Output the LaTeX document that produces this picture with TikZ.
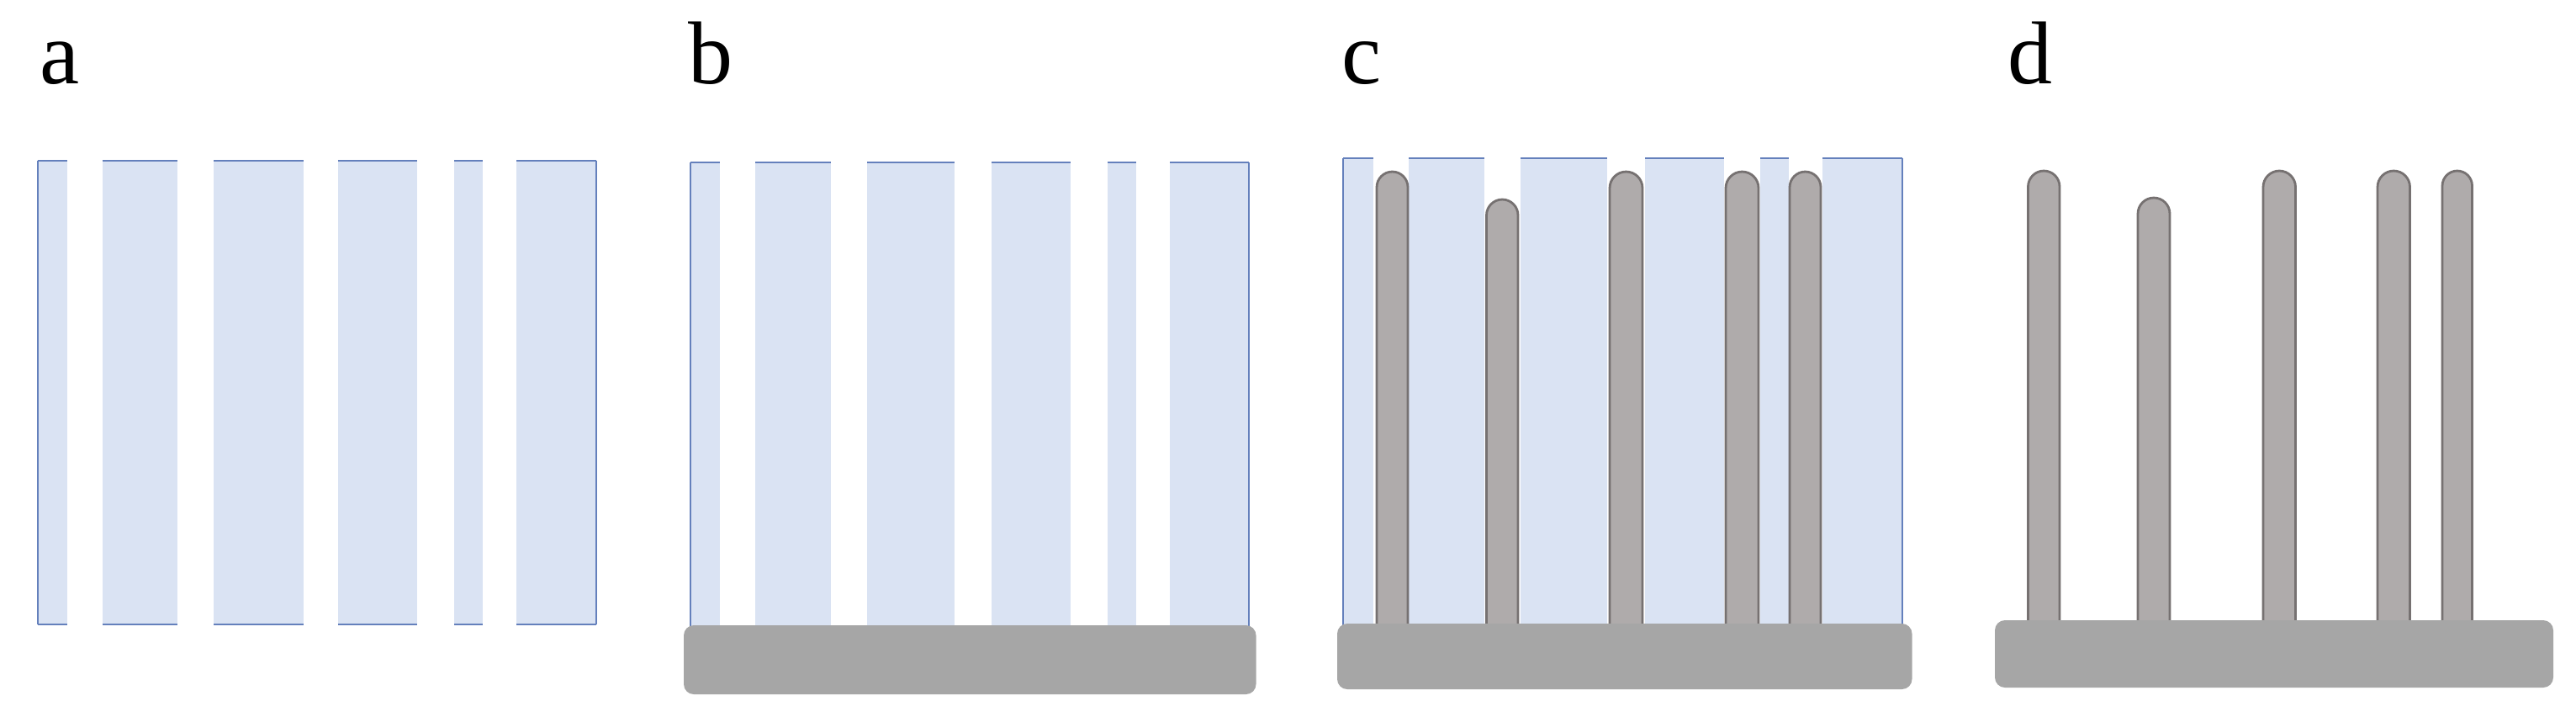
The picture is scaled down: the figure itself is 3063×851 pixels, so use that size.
\documentclass[tikz,border=0pt]{standalone}
\usepackage{fontspec}
\setmainfont{Liberation Serif}
\definecolor{stripfill}{HTML}{DAE3F3}
\definecolor{stripline}{RGB}{100,128,188}
\definecolor{rodfill}{HTML}{AFABAB}
\definecolor{rodline}{HTML}{767171}
\definecolor{basefill}{HTML}{A6A6A6}
\tikzset{
  stripbox/.style={fill=stripfill, draw=none},
  stripedge/.style={draw=stripline, line width=0.5pt},
  rodshape/.style={fill=rodfill, draw=rodline, line width=0.7pt},
  baseplate/.style={fill=basefill, draw=none, rounded corners=3pt},
  panellabel/.style={anchor=base west, inner sep=0pt, font=\fontsize{26.5}{30}\selectfont}
}
\newcommand\myrod[3]{%
  \pgfmathsetmacro\rr{(#2-#1)/2}%
  \draw[rodshape] (#1,770) -- ({#1},{#3+\rr}) arc[start angle=180,end angle=360,radius=\rr] -- (#2,770);%
}
\begin{document}
\begin{tikzpicture}[x=0.25pt,y=-0.25pt]
\useasboundingbox (0,0) rectangle (3063,851);

% labels
\node[panellabel] (la) at (47,99) {a};
\node[panellabel] (lb) at (818,99) {b};
\node[panellabel] (lc) at (1595,99) {c};
\node[panellabel] (ld) at (2387,99) {d};

% ---------- panel a ----------
\foreach \l/\r in {44.6/79.5,121.7/211.3,254/360.6,401.8/495.9,540/574,614/709}{
  \fill[stripbox] (\l,191) rectangle (\r,742);
  \draw[stripedge] (\l,191) -- (\r,191);
  \draw[stripedge] (\l,742) -- (\r,742);
}
\draw[stripedge] (44.6,191) -- (44.6,742);
\draw[stripedge] (709,191) -- (709,742);

% ---------- panel b ----------
\foreach \l/\r in {821/856,898/988,1031/1135,1179/1273,1317/1351,1391/1485}{
  \fill[stripbox] (\l,193) rectangle (\r,745);
  \draw[stripedge] (\l,193) -- (\r,193);
}
\draw[stripedge] (821,193) -- (821,745);
\draw[stripedge] (1485,193) -- (1485,745);
\fill[baseplate] (813,743) rectangle (1493.5,825);

% ---------- panel c ----------
\foreach \l/\r in {1597/1633,1675/1765,1808/1911,1956/2050,2093/2127,2167/2262}{
  \fill[stripbox] (\l,188) rectangle (\r,743);
  \draw[stripedge] (\l,188) -- (\r,188);
}
\draw[stripedge] (1597,188) -- (1597,743);
\draw[stripedge] (2262,188) -- (2262,743);
\myrod{1637}{1674}{204}
\myrod{1767.5}{1805}{237}
\myrod{1914}{1953}{204}
\myrod{2052}{2091}{204}
\myrod{2128}{2165}{204}
\fill[baseplate] (1590,741) rectangle (2273.5,819);

% ---------- panel d ----------
\myrod{2411.5}{2449}{203}
\myrod{2542}{2580}{235}
\myrod{2691}{2729.5}{203}
\myrod{2827}{2865.5}{203}
\myrod{2904}{2939.5}{203}
\fill[baseplate] (2372,737) rectangle (3036,817);
\end{tikzpicture}
\end{document}
